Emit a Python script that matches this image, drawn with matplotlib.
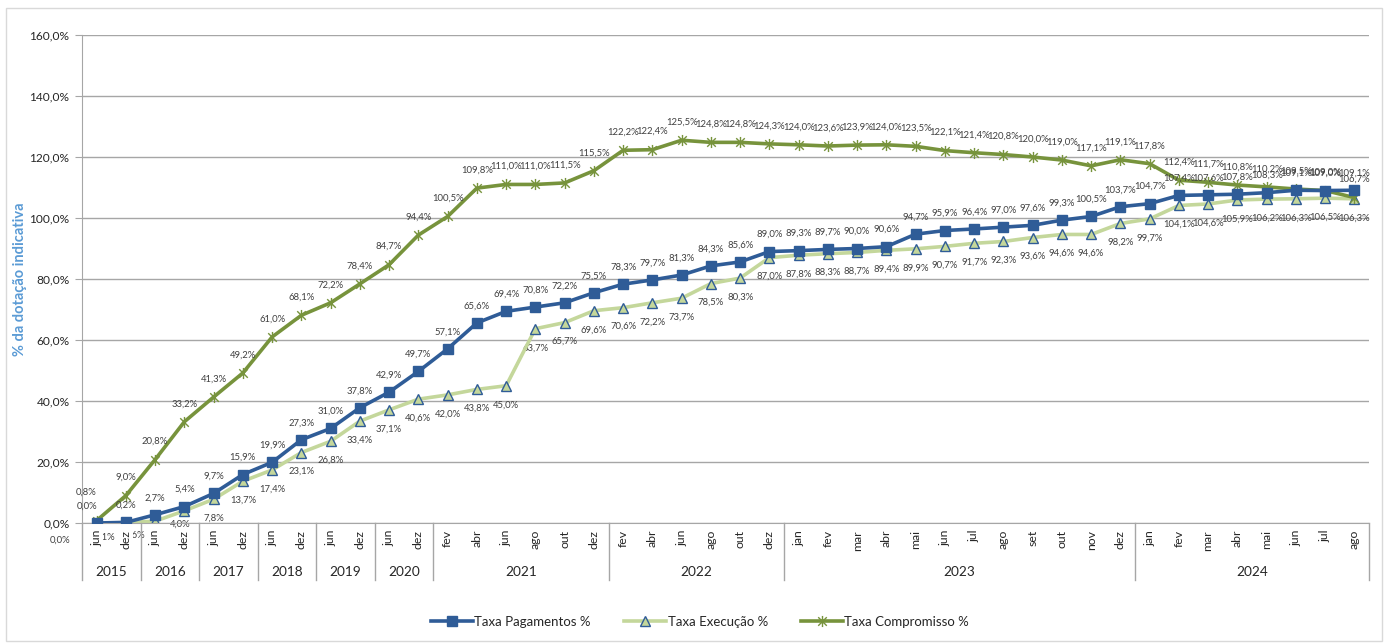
import matplotlib.pyplot as plt
from matplotlib.path import Path
from matplotlib.patches import Rectangle
from matplotlib.transforms import blended_transform_factory

plt.rcParams['font.family'] = ['Lato', 'DejaVu Sans']

# eixo x em dois níveis: meses agrupados por ano
anos = ['2015', '2016', '2017', '2018', '2019', '2020', '2021', '2022', '2023', '2024']
meses_por_ano = [
    ['jun', 'dez'], ['jun', 'dez'], ['jun', 'dez'], ['jun', 'dez'], ['jun', 'dez'], ['jun', 'dez'],
    ['fev', 'abr', 'jun', 'ago', 'out', 'dez'],
    ['fev', 'abr', 'jun', 'ago', 'out', 'dez'],
    ['jan', 'fev', 'mar', 'abr', 'mai', 'jun', 'jul', 'ago', 'set', 'out', 'nov', 'dez'],
    ['jan', 'fev', 'mar', 'abr', 'mai', 'jun', 'jul', 'ago'],
]

pagamentos = [0.0, 0.2, 2.7, 5.4, 9.7, 15.9, 19.9, 27.3, 31.0, 37.8, 42.9, 49.7,
              57.1, 65.6, 69.4, 70.8, 72.2, 75.5,
              78.3, 79.7, 81.3, 84.3, 85.6, 89.0,
              89.3, 89.7, 90.0, 90.6, 94.7, 95.9, 96.4, 97.0, 97.6, 99.3, 100.5, 103.7,
              104.7, 107.4, 107.6, 107.8, 108.3, 109.1, 109.0, 109.1]
execucao = [0.0, 0.1, 0.6, 4.0, 7.8, 13.7, 17.4, 23.1, 26.8, 33.4, 37.1, 40.6,
            42.0, 43.8, 45.0, 63.7, 65.7, 69.6,
            70.6, 72.2, 73.7, 78.5, 80.3, 87.0,
            87.8, 88.3, 88.7, 89.4, 89.9, 90.7, 91.7, 92.3, 93.6, 94.6, 94.6, 98.2,
            99.7, 104.1, 104.6, 105.9, 106.2, 106.3, 106.5, 106.3]
compromisso = [0.8, 9.0, 20.8, 33.2, 41.3, 49.2, 61.0, 68.1, 72.2, 78.4, 84.7, 94.4,
               100.5, 109.8, 111.0, 111.0, 111.5, 115.5,
               122.2, 122.4, 125.5, 124.8, 124.8, 124.3,
               124.0, 123.6, 123.9, 124.0, 123.5, 122.1, 121.4, 120.8, 120.0, 119.0, 117.1, 119.1,
               117.8, 112.4, 111.7, 110.8, 110.2, 109.5, 109.0, 106.7]

meses = [m for grupo in meses_por_ano for m in grupo]
x = list(range(len(meses)))

azul = '#2F5C97'
verde_claro = '#C4D79B'
verde = '#77933C'
cinza = '#A6A6A6'
texto = '#404040'


def fmt(v):
    return f'{v:.1f}%'.replace('.', ',')


# marcador "estrela" do Excel: X com traço vertical
estrela = Path([(-1, -1), (1, 1), (-1, 1), (1, -1), (0, -1.3), (0, 1.3)],
               [Path.MOVETO, Path.LINETO, Path.MOVETO, Path.LINETO, Path.MOVETO, Path.LINETO])

fig = plt.figure(figsize=(13.88, 6.44), dpi=100)
fig.patches.append(Rectangle((6 / 1388, 3 / 644), 1376 / 1388, 633 / 644, transform=fig.transFigure,
                             fill=False, edgecolor='#D9D9D9', linewidth=1))
ax = fig.add_axes([82 / 1388, 121 / 644, 1287 / 1388, 488 / 644])

ax.plot(x, pagamentos, color=azul, linewidth=2.6, marker='s', markersize=7,
        markerfacecolor=azul, markeredgecolor=azul, label='Taxa Pagamentos %', zorder=3)
ax.plot(x, execucao, color=verde_claro, linewidth=2.6, marker='^', markersize=6.5,
        markerfacecolor=verde_claro, markeredgecolor=azul, markeredgewidth=1,
        label='Taxa Execução %', zorder=2)
ax.plot(x, compromisso, color=verde, linewidth=2.6, marker=estrela, markersize=8,
        markerfacecolor='none', markeredgecolor=verde, markeredgewidth=1,
        label='Taxa Compromisso %', zorder=2.5)

# rótulos de dados
for i in x:
    dx = -10 if i == 0 else 0
    ax.annotate(fmt(pagamentos[i]), (i, pagamentos[i]), xytext=(dx, 17), textcoords='offset pixels',
                ha='center', va='center', fontsize=6.8, color=texto, zorder=4)
    c_dy = 28 if i == 0 else 18
    ax.annotate(fmt(compromisso[i]), (i, compromisso[i]), xytext=(dx, c_dy), textcoords='offset pixels',
                ha='center', va='center', fontsize=6.8, color=texto, zorder=4)
    ex_dx, ex_dy = (0, -19)
    if i == 0:
        ex_dx, ex_dy = (-37, -17)
    elif i == 1:
        ex_dx, ex_dy = (-21, -14)
    elif i == 2:
        ex_dx, ex_dy = (-20, -14)
    elif i == 3:
        ex_dx, ex_dy = (-4, -13)
    ax.annotate(fmt(execucao[i]), (i, execucao[i]), xytext=(ex_dx, ex_dy), textcoords='offset pixels',
                ha='center', va='center', fontsize=6.8, color=texto, zorder=1,
                annotation_clip=False)

ax.set_xlim(-0.5, len(meses) - 0.5)
ax.set_ylim(0, 160)
ax.set_yticks(range(0, 161, 20))
ax.set_yticklabels([fmt(v) for v in range(0, 161, 20)])
ax.tick_params(axis='y', length=5, color=cinza, labelsize=8.6, labelcolor='#262626', pad=4)
ax.yaxis.grid(True, color=cinza, linewidth=1)
ax.set_axisbelow(True)

ax.set_xticks(x)
ax.set_xticklabels(meses, rotation=90, va='top', ha='center')
ax.tick_params(axis='x', length=0, labelsize=8.8, labelcolor='#262626', pad=5)
for lbl in ax.get_xticklabels():
    lbl.set_bbox(dict(facecolor='white', edgecolor='none', pad=1))
ax.xaxis.set_zorder(5)

for lado in ['top', 'right']:
    ax.spines[lado].set_visible(False)
for lado in ['left', 'bottom']:
    ax.spines[lado].set_color(cinza)

# separadores e rótulos dos anos
trans = blended_transform_factory(ax.transData, ax.transAxes)
inicio = -0.5
ax.plot([inicio, inicio], [0, -0.117], transform=trans, color=cinza, linewidth=1, clip_on=False)
for ano, grupo in zip(anos, meses_por_ano):
    fim = inicio + len(grupo)
    ax.plot([fim, fim], [0, -0.117], transform=trans, color=cinza, linewidth=1, clip_on=False)
    ax.text((inicio + fim) / 2, -0.1, ano, transform=trans, ha='center', va='center',
            fontsize=9.8, color='#262626')
    inicio = fim

ax.set_ylabel('% da dotação indicativa', color='#5B9BD5', fontsize=10.5, fontweight='bold', labelpad=2)

fig.legend(loc='center', bbox_to_anchor=(700 / 1388, 1 - 622 / 644), ncol=3, frameon=False,
           fontsize=9.5, handlelength=3.2, columnspacing=2.5, handletextpad=0.1,
           labelcolor='#262626')

fig.savefig('out.png', dpi=100)
